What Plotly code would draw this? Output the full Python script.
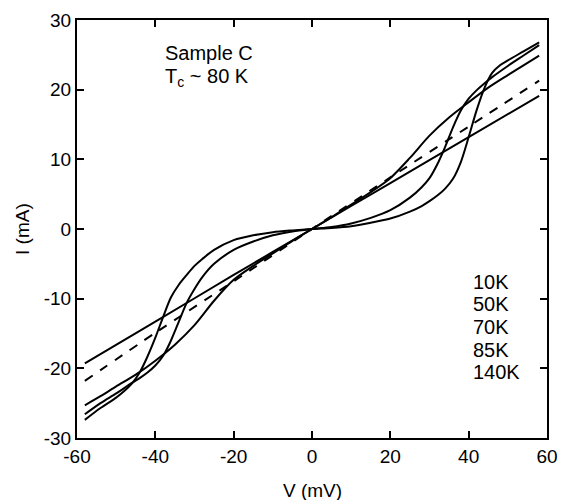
import plotly.graph_objects as go

# Voltage grids (mV) and currents (mA)
V_10K = [-58, -54, -50, -48, -46, -44, -42, -40, -38, -36, -34, -32, -30, -28, -25, -20, -15, -10, -5, 0,
         5, 10, 15, 20, 25, 28, 30, 32, 34, 36, 38, 40, 42, 44, 46, 48, 50, 54, 58]
I_10K = [-27.4, -25.7, -24.2, -23.3, -22.2, -20.6, -18.3, -15.6, -12.6, -9.8, -8.0, -6.6, -5.3, -4.3, -3.0, -1.6, -0.9, -0.45, -0.2, 0.0,
         0.15, 0.4, 0.9, 1.5, 2.5, 3.3, 4.0, 4.8, 5.8, 7.2, 9.6, 13.2, 17.0, 20.2, 22.4, 23.5, 24.2, 25.5, 26.8]

V_50K = [-58, -54, -50, -46, -44, -42, -40, -38, -36, -34, -32, -30, -28, -25, -20, -15, -10, -5, 0,
         5, 10, 15, 20, 25, 28, 30, 32, 34, 36, 38, 40, 42, 44, 46, 50, 54, 58]
I_50K = [-26.6, -25.0, -23.6, -22.1, -21.4, -20.6, -19.6, -18.2, -16.0, -13.3, -10.6, -8.6, -6.9, -5.0, -3.0, -1.8, -0.9, -0.35, 0.0,
         0.3, 0.8, 1.6, 2.7, 4.5, 6.0, 7.3, 9.3, 11.8, 14.6, 17.0, 18.7, 19.9, 20.9, 21.8, 23.4, 24.9, 26.4]

V_70K = [-58, -54, -50, -45, -40, -35, -30, -25, -20, -15, -10, -5, 0,
         5, 10, 15, 20, 25, 30, 35, 40, 45, 50, 54, 58]
I_70K = [-25.3, -24.0, -22.6, -20.9, -18.9, -16.6, -13.8, -10.3, -7.3, -5.3, -3.5, -1.7, 0.0,
         1.7, 3.5, 5.3, 7.3, 10.2, 13.4, 16.0, 18.2, 20.3, 22.1, 23.5, 24.9]

V_85K = [-58, -40, -20, 0, 20, 40, 58]
I_85K = [-21.8, -14.9, -7.5, 0.0, 7.4, 14.7, 21.3]

V_140K = [-58, -40, -20, 0, 20, 40, 58]
I_140K = [-19.3, -13.3, -6.6, 0.0, 6.6, 13.2, 19.1]

labels = ["10K", "50K", "70K", "85K", "140K"]
label_y = [-7.6, -10.8, -14.1, -17.3, -20.5]

x_ticks = [-60, -40, -20, 0, 20, 40, 60]
y_ticks = [-30, -20, -10, 0, 10, 20, 30]

FONT = "Liberation Sans, Arial, Helvetica, sans-serif"

fig = go.Figure()
series = [
    (V_10K, I_10K, "solid"),
    (V_50K, I_50K, "solid"),
    (V_70K, I_70K, "solid"),
    (V_85K, I_85K, "dash"),
    (V_140K, I_140K, "solid"),
]
for (vx, iy, dash), name in zip(series, labels):
    fig.add_trace(go.Scatter(
        x=vx, y=iy, mode="lines", name=name,
        line=dict(color="black", width=2, dash=dash, shape="spline", smoothing=0.8),
        showlegend=False,
    ))

annotations = [
    dict(x=-38.0, y=25.3, text="Sample C", showarrow=False, xanchor="left", yanchor="middle",
         font=dict(size=20, color="black", family=FONT)),
    dict(x=-38.0, y=21.8, text="T<sub>c</sub> ~ 80 K", showarrow=False, xanchor="left", yanchor="middle",
         font=dict(size=20, color="black", family=FONT)),
    # axis titles
    dict(x=0.5, y=0, xref="paper", yref="paper", text="V (mV)", showarrow=False,
         xanchor="center", yanchor="middle", yshift=-52,
         font=dict(size=19, color="black", family=FONT)),
    dict(x=0, y=0.5, xref="paper", yref="paper", text="I (mA)", showarrow=False,
         xanchor="center", yanchor="middle", xshift=-55, textangle=-90,
         font=dict(size=19, color="black", family=FONT)),
]
for t, ly in zip(labels, label_y):
    annotations.append(dict(x=40.5, y=ly, text=t, showarrow=False, xanchor="left", yanchor="middle",
                            font=dict(size=20, color="black", family=FONT)))

axis_common = dict(
    showgrid=False, zeroline=False, showline=True, linecolor="black", linewidth=2,
    mirror="ticks", ticks="inside", ticklen=7, tickwidth=1.5, tickcolor="black",
    tickfont=dict(size=19, color="black", family=FONT), automargin=False,
)

fig.update_layout(
    width=565, height=492,
    margin=dict(l=69, r=26, t=12, b=62),
    paper_bgcolor="white", plot_bgcolor="white",
    font=dict(family=FONT, color="black"),
    xaxis=dict(range=[-60, 60], tickvals=x_ticks, ticktext=[str(v) for v in x_ticks], **axis_common),
    yaxis=dict(range=[-30, 30], tickvals=y_ticks, ticktext=[str(v) for v in y_ticks], **axis_common),
    annotations=annotations,
)

fig.write_html("out.html")
